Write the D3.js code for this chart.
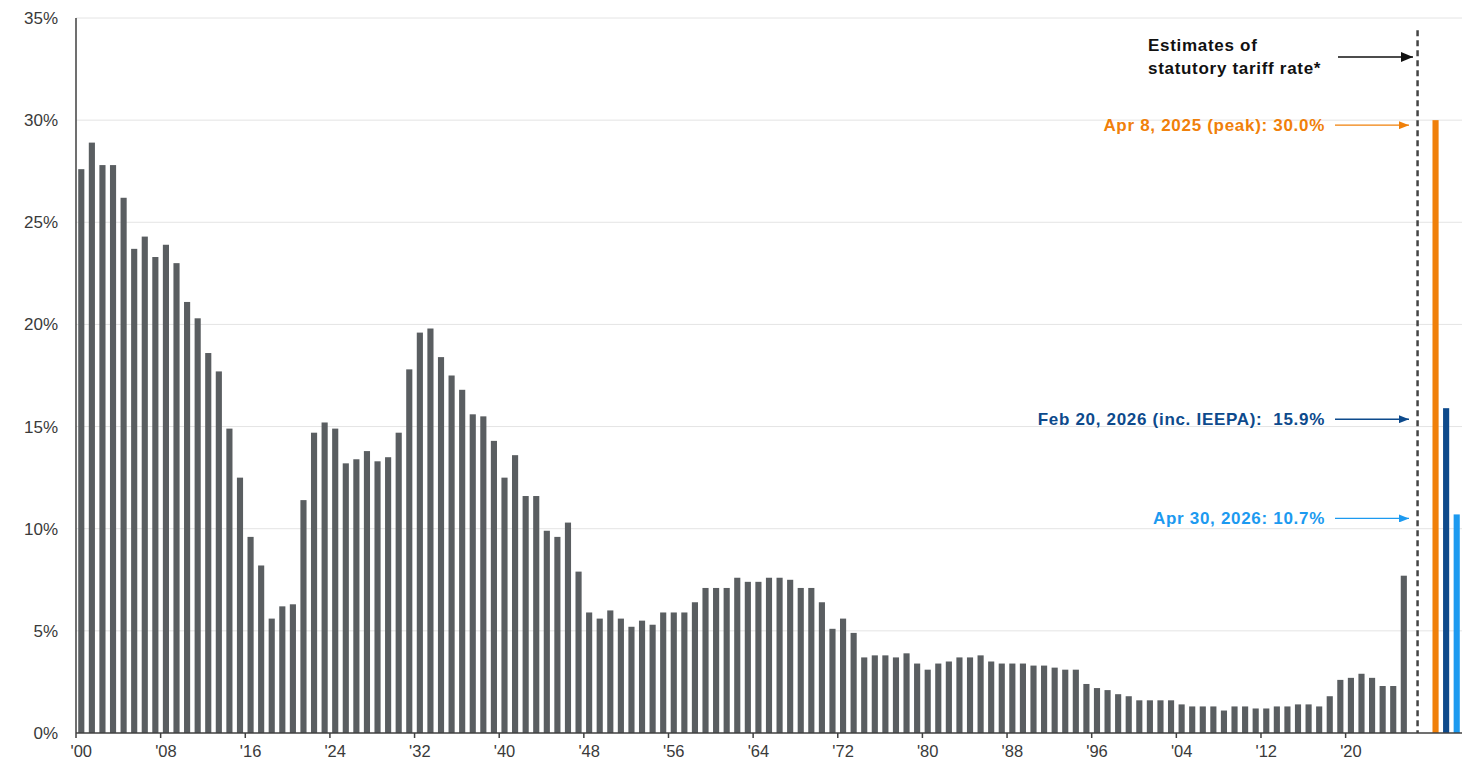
<!DOCTYPE html>
<html>
<head>
<meta charset="utf-8">
<script src="https://cdn.jsdelivr.net/npm/d3@7"></script>
<style>
  body { margin: 0; background: #fff; }
  svg { font-family: "Liberation Sans", Arial, sans-serif; }
</style>
</head>
<body>
<div id="chart"></div>
<script>

// average tariff rate by year, 1900 - 2025 (%)
let years = d3.range(1900, 2026)
let tariffRates = [
    27.6, 28.9, 27.8, 27.8, 26.2, 23.7, 24.3, 23.3, 23.9, 23.0,
    21.1, 20.3, 18.6, 17.7, 14.9, 12.5, 9.6, 8.2, 5.6, 6.2,
    6.3, 11.4, 14.7, 15.2, 14.9, 13.2, 13.4, 13.8, 13.3, 13.5,
    14.7, 17.8, 19.6, 19.8, 18.4, 17.5, 16.8, 15.6, 15.5, 14.3,
    12.5, 13.6, 11.6, 11.6, 9.9, 9.6, 10.3, 7.9, 5.9, 5.6,
    6.0, 5.6, 5.2, 5.5, 5.3, 5.9, 5.9, 5.9, 6.4, 7.1,
    7.1, 7.1, 7.6, 7.4, 7.4, 7.6, 7.6, 7.5, 7.1, 7.1,
    6.4, 5.1, 5.6, 4.9, 3.7, 3.8, 3.8, 3.7, 3.9, 3.4,
    3.1, 3.4, 3.5, 3.7, 3.7, 3.8, 3.5, 3.4, 3.4, 3.4,
    3.3, 3.3, 3.2, 3.1, 3.1, 2.4, 2.2, 2.1, 1.9, 1.8,
    1.6, 1.6, 1.6, 1.6, 1.4, 1.3, 1.3, 1.3, 1.1, 1.3,
    1.3, 1.2, 1.2, 1.3, 1.3, 1.4, 1.4, 1.3, 1.8, 2.6,
    2.7, 2.9, 2.7, 2.3, 2.3, 7.7
]

// estimates of statutory tariff rate
let estimateKeys = ['apr2025', 'feb2026', 'apr2026']
let estimateRates = [30.0, 15.9, 10.7]
let estimateLabels = [
    'Apr 8, 2025 (peak): 30.0%',
    'Feb 20, 2026 (inc. IEEPA):  15.9%',
    'Apr 30, 2026: 10.7%'
]
let estimateColors = ['#f0800a', '#0d4a8c', '#1c9af0']

let gapKeys = ['gap1', 'gap2']
let yTicks = [0, 5, 10, 15, 20, 25, 30, 35]
let xTickYears = d3.range(1900, 2026, 8)

let width = 1463
let height = 772
let margins = {top: 18, bottom: 39, left: 76, right: 1}

let categories = years.map(String).concat(gapKeys).concat(estimateKeys)

let x = d3.scaleBand()
    .domain(categories)
    .range([margins.left, width - margins.right])
    .paddingInner(0.42)
    .paddingOuter(0.21)

let y = d3.scaleLinear()
    .domain([0, 35])
    .range([height - margins.bottom, margins.top])

let svg = d3.select('#chart')
    .append('svg')
        .attr('width', width)
        .attr('height', height)

//GRIDLINES
svg.append('g')
    .selectAll('line')
    .data(yTicks.filter(d => d > 0))
    .join('line')
        .attr('x1', margins.left)
        .attr('x2', width - margins.right)
        .attr('y1', d => y(d))
        .attr('y2', d => y(d))
        .attr('stroke', '#e4e4e4')
        .attr('stroke-width', 1)

//Y-AXIS LABELS
svg.append('g')
    .call(d3.axisLeft(y).tickValues(yTicks).tickFormat(d => d + '%').tickSize(0).tickPadding(18))
    .attr('transform', `translate(${margins.left},0)`)
    .attr('font-size', 17)
    .attr('font-family', '"Liberation Sans", Arial, sans-serif')
    .call(g => g.select('.domain').remove())
    .call(g => g.selectAll('text').attr('fill', '#3a3a3a'))

//BARS
svg.append('g')
    .selectAll('rect')
    .data(years)
    .join('rect')
        .attr('x', (d, i) => x(String(d)))
        .attr('width', x.bandwidth())
        .attr('y', (d, i) => y(tariffRates[i]))
        .attr('height', (d, i) => y(0) - y(tariffRates[i]))
        .attr('fill', '#5a5e61')

svg.append('g')
    .selectAll('rect')
    .data(estimateKeys)
    .join('rect')
        .attr('x', d => x(d))
        .attr('width', x.bandwidth())
        .attr('y', (d, i) => y(estimateRates[i]))
        .attr('height', (d, i) => y(0) - y(estimateRates[i]))
        .attr('fill', (d, i) => estimateColors[i])

//X-AXIS
let xAxis = d3.axisBottom(x)
    .tickValues(xTickYears.map(String))
    .tickFormat(d => "'" + d.slice(2))
    .tickSize(0)
    .tickPadding(12)

svg.append('g')
    .attr('transform', `translate(0, ${y(0)})`)
    .call(xAxis)
    .attr('font-size', 16.5)
    .attr('font-family', '"Liberation Sans", Arial, sans-serif')
    .call(g => g.select('.domain').remove())
    .call(g => g.selectAll('text').attr('fill', '#3a3a3a'))

// tick marks sit on the left edge of each labelled year
svg.append('g')
    .selectAll('line')
    .data(xTickYears)
    .join('line')
        .attr('x1', d => x(String(d)) - x.step() * x.paddingInner() / 2)
        .attr('x2', d => x(String(d)) - x.step() * x.paddingInner() / 2)
        .attr('y1', y(0))
        .attr('y2', y(0) + 5)
        .attr('stroke', '#404040')
        .attr('stroke-width', 1.5)

svg.append('line')
    .attr('x1', margins.left)
    .attr('x2', width - margins.right)
    .attr('y1', y(0))
    .attr('y2', y(0))
    .attr('stroke', '#404040')
    .attr('stroke-width', 1.5)

svg.append('line')
    .attr('x1', margins.left)
    .attr('x2', margins.left)
    .attr('y1', y(35))
    .attr('y2', y(0))
    .attr('stroke', '#404040')
    .attr('stroke-width', 1.5)

//DASHED DIVIDER
let dividerX = x('gap1') + x.bandwidth() / 2 + x.step() * 0.3

svg.append('line')
    .attr('x1', dividerX)
    .attr('x2', dividerX)
    .attr('y1', y(34.4))
    .attr('y2', y(0))
    .attr('stroke', '#444')
    .attr('stroke-width', 2.5)
    .attr('stroke-dasharray', '6,4')

//ARROW MARKERS
let defs = svg.append('defs')
let markerColors = ['#111'].concat(estimateColors)
markerColors.forEach(function(c, i){
    defs.append('marker')
        .attr('id', 'arrow' + i)
        .attr('viewBox', '0 0 10 10')
        .attr('refX', 10)
        .attr('refY', 5)
        .attr('markerWidth', i == 0 ? 12 : 10)
        .attr('markerHeight', i == 0 ? 10 : 8)
        .attr('markerUnits', 'userSpaceOnUse')
        .attr('orient', 'auto')
        .attr('preserveAspectRatio', 'none')
        .append('path')
            .attr('d', 'M0,0 L10,5 L0,10 Z')
            .attr('fill', c)
})

function arrow(yPos, i, x1, x2){
    svg.append('line')
        .attr('x1', x1)
        .attr('x2', x2)
        .attr('y1', yPos)
        .attr('y2', yPos)
        .attr('stroke', markerColors[i])
        .attr('stroke-width', 1.4)
        .attr('marker-end', `url(#arrow${i})`)
}

//ANNOTATIONS
let note = svg.append('text')
    .attr('x', 1148)
    .attr('font-size', 17)
    .attr('font-weight', 'bold')
    .attr('letter-spacing', 0.7)
    .attr('fill', '#111')
note.append('tspan').attr('x', 1148).attr('y', 51).text('Estimates of')
note.append('tspan').attr('x', 1148).attr('y', 74).text('statutory tariff rate*')

arrow(57, 0, 1338, 1413)

let labelOffsets = [5, 11, 4]
estimateLabels.forEach(function(label, i){
    let yPos = y(estimateRates[i]) + labelOffsets[i]
    svg.append('text')
        .attr('x', 1325)
        .attr('y', yPos + 6)
        .attr('text-anchor', 'end')
        .attr('font-size', 17)
        .attr('font-weight', 'bold')
        .attr('letter-spacing', 0.7)
        .attr('fill', estimateColors[i])
        .attr('xml:space', 'preserve')
        .style('white-space', 'pre')
        .text(label)
    arrow(yPos, i + 1, 1335, 1409)
})

</script>
</body>
</html>
